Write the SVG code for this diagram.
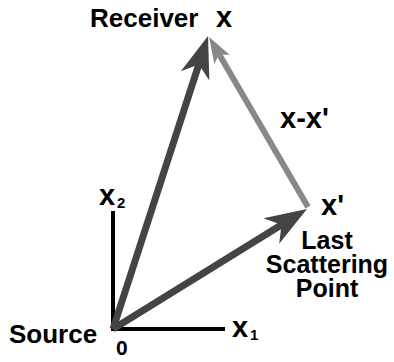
<svg xmlns="http://www.w3.org/2000/svg" width="394" height="362" viewBox="0 0 394 362">
<style>
text{font-family:"Liberation Sans",Arial,sans-serif;font-weight:bold;fill:#000}
.lbl{font-size:25px}
.var{font-size:29px}
.sub{font-size:15px}
.axis{stroke:#000;stroke-width:4;fill:none}
.dark{stroke:#444;stroke-width:7;fill:none}
.grey{stroke:#888;stroke-width:6;fill:none}
</style>
<defs>
<marker id="headDark" markerUnits="userSpaceOnUse" viewBox="0 -16 42 32" markerWidth="42" markerHeight="32" refX="14" refY="0" orient="auto" overflow="visible">
<path d="M0,-15 L42,0 L0,15 L12,0 Z" fill="#444"/>
</marker>
<marker id="headGrey" markerUnits="userSpaceOnUse" viewBox="0 -10 26 20" markerWidth="26" markerHeight="20" refX="8" refY="0" orient="auto" overflow="visible">
<path d="M0,-9 L26,0 L0,9 L6,0 Z" fill="#888"/>
</marker>
</defs>
<g id="axes">
<path class="axis" d="M113,211 V329 H225"/>
</g>
<g id="connectors">
<line class="grey" x1="308" y1="207" x2="218.1" y2="52.6" marker-end="url(#headGrey)"/>
<line class="dark" x1="113" y1="329" x2="199.4" y2="62.6" marker-end="url(#headDark)"/>
<line class="dark" x1="113" y1="329" x2="283.2" y2="223.7" marker-end="url(#headDark)"/>
</g>
<g id="receiver">
<text x="90" y="27" style="font-size:26px">Receiver</text>
<text class="var" x="216" y="27">x</text>
</g>
<g id="difference">
<text class="var" x="280" y="128">x-x'</text>
</g>
<g id="scatter">
<text class="var" x="321" y="215">x'</text>
<text class="lbl" text-anchor="middle"><tspan x="327" y="249">Last</tspan><tspan x="327" y="273">Scattering</tspan><tspan x="327" y="297">Point</tspan></text>
</g>
<g id="source">
<text class="lbl" x="9" y="343" style="font-size:26px">Source</text>
<text x="116" y="355" style="font-size:21px">0</text>
</g>
<g id="x1axis">
<text class="var" x="232" y="337">x</text>
<text class="sub" x="250" y="340">1</text>
</g>
<g id="x2axis">
<text class="var" x="99" y="205">x</text>
<text class="sub" x="117" y="208">2</text>
</g>
</svg>
